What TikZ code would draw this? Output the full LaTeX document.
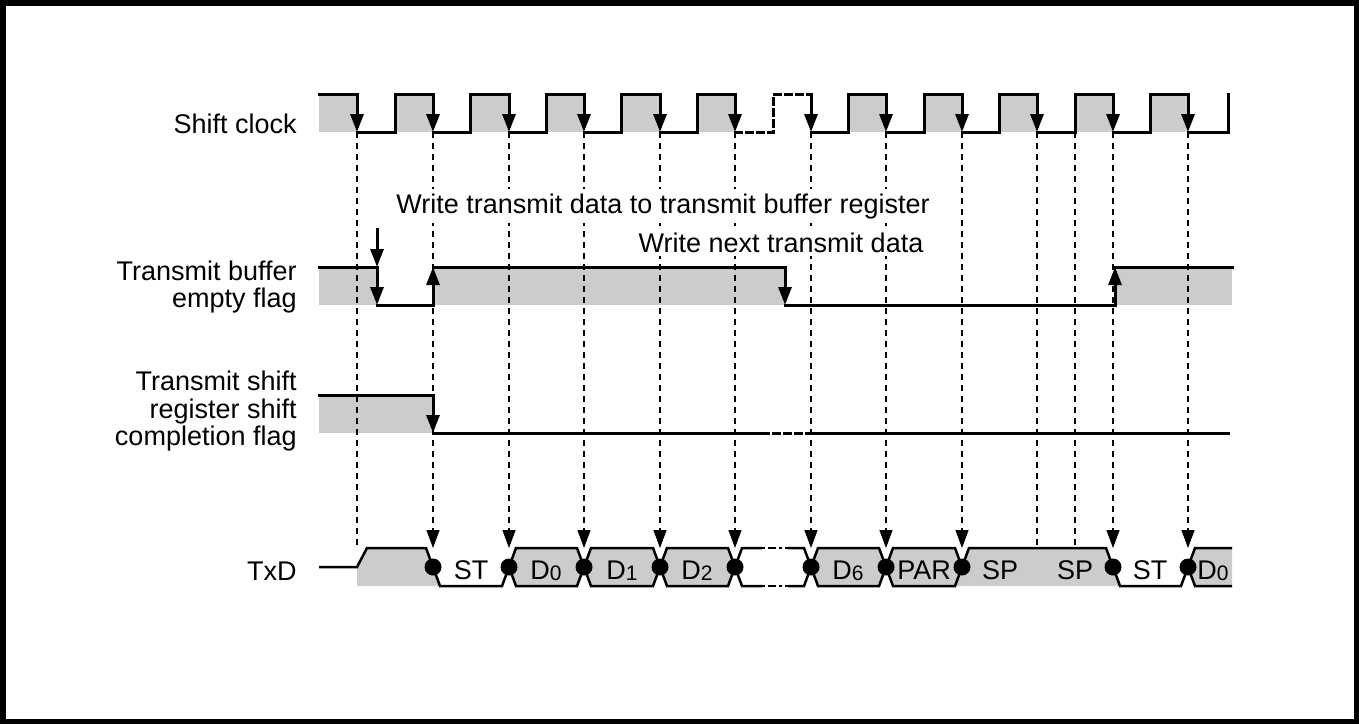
\documentclass[tikz,border=0pt]{standalone}
\usepackage{fontspec}
\setmainfont{Liberation Sans}
\usetikzlibrary{arrows.meta}
\definecolor{sgray}{RGB}{204,204,204}
\begin{document}
\begin{tikzpicture}[x=0.5pt,y=-0.5pt,
  sig/.style={line width=1.5pt, line join=miter, line cap=rect},
  txdline/.style={line width=1.25pt, line join=miter},
  guide/.style={line width=0.6pt, dash pattern=on 3pt off 2.5pt},
  arr/.style={-{Triangle[length=9pt,width=6.5pt]}},
  lab/.style={font=\fontsize{13.5}{16}\selectfont, inner sep=0pt, anchor=base east},
  celltxt/.style={font=\fontsize{13.5}{15}\selectfont, inner sep=0pt, anchor=base},
  note/.style={font=\fontsize{13.5}{16}\selectfont, fill=white, inner sep=2pt, anchor=base},
  tdot/.style={circle, fill=black, inner sep=0pt, minimum size=8.5pt}
]
\newcommand{\sub}[1]{\raisebox{-0.5pt}{\fontsize{10.5}{11}\selectfont #1}}
\useasboundingbox (0,0) rectangle (1359,724);
\draw[line width=2.75pt] (2.75,2.75) rectangle (1356.25,721.25);

% ---------------- gray fills ----------------
\foreach \r/\f in {319/357,395/433,470/509,546/584,621/660,697/735,848/886,924/962,999/1037,1075/1113,1150/1188}
  \fill[sgray] (\r,94) rectangle (\f,132);
\fill[sgray] (319,267) rectangle (377,305);
\fill[sgray] (433,267) rectangle (785,305);
\fill[sgray] (1115,267) rectangle (1232,305);
\fill[sgray] (319,395) rectangle (433,433);
\fill[sgray] (357,567) -- (367,548) -- (426,548) -- (440,586) -- (357,586) -- cycle;
\fill[sgray] (962,567) -- (969,548) -- (1106,548) -- (1120,586) -- (955,586) -- cycle;

% ---------------- guide lines ----------------
\foreach \x/\n in {357/1,433/2,509/3,584/4,660/5,735/6,811/7,886/8,962/9,1037/10,1075/11,1113/12,1188/13}{
  \coordinate (ck\n) at (\x,132);
  \coordinate (tx\n) at (\x,548);
}
\foreach \n in {1,10,11} \draw[guide] (ck\n) -- (tx\n);
\foreach \n in {2,3,4,5,6,7,8,9,12,13} \draw[guide,arr] (ck\n) -- (tx\n);

% ---------------- shift clock ----------------
\foreach \r/\f in {319/357,395/433,470/509,546/584,621/660,697/735,848/886,924/962,999/1037,1075/1113,1150/1188}
  \draw[sig,arr] (\r,94) -- (\f,94) -- (\f,132);
\foreach \f/\r in {357/395,433/470,509/546,584/621,660/697,811/848,886/924,962/999,1037/1075,1113/1150,1188/1228}
  \draw[sig] (\f,132) -- (\r,132) -- (\r,94);
\draw[sig,dash pattern=on 3pt off 2.5pt] (735,132) -- (773,132) -- (773,94) -- (811,94);
\draw[sig,arr] (811,94) -- (811,132);

% ---------------- transmit buffer empty flag ----------------
\draw[sig,arr] (319,267) -- (377,267) -- (377,305);
\draw[sig] (377,305) -- (431,305);
\draw[sig,arr] (433,305) -- (433,267);
\draw[sig,arr] (433,267) -- (785,267) -- (785,305);
\draw[sig] (785,305) -- (1115,305);
\draw[sig,arr] (1115,305) -- (1115,267);
\draw[sig] (1115,267) -- (1232,267);
\coordinate (wr) at (377,228);
\coordinate (wrend) at (377,267);
\draw[line width=1.5pt,arr] (wr) -- (wrend);

% ---------------- shift completion flag ----------------
\draw[sig,arr] (319,395) -- (433,395) -- (433,433);
\draw[sig] (433,433) -- (762,433);
\draw[sig,dash pattern=on 3pt off 2.5pt] (762,433) -- (806,433);
\draw[sig] (806,433) -- (1228,433);

% ---------------- TxD ----------------
\draw[txdline] (319,567) -- (357,567) -- (367,548) -- (426,548) -- (440,586) -- (502,586) -- (509,567);
\foreach \a/\b in {509/584,584/660,660/735,811/886,886/962}
  \draw[txdline,fill=sgray] (\a,567) -- (\a+7,548) -- (\b-7,548) -- (\b,567) -- (\b-7,586) -- (\a+7,586) -- cycle;
\draw[txdline] (735,567) -- (742,548) -- (762,548);
\draw[txdline] (735,567) -- (742,586) -- (762,586);
\draw[txdline,dash pattern=on 1.5pt off 1.5pt on 4pt off 1.5pt] (762,548) -- (788,548);
\draw[txdline,dash pattern=on 1.5pt off 1.5pt on 4pt off 1.5pt] (762,586) -- (788,586);
\draw[txdline] (788,548) -- (804,548) -- (811,567);
\draw[txdline] (788,586) -- (804,586) -- (811,567);
\draw[txdline] (962,567) -- (969,548) -- (1106,548) -- (1120,586) -- (1181,586) -- (1188,567);
\fill[sgray] (1188,567) -- (1195,548) -- (1232,548) -- (1232,586) -- (1195,586) -- cycle;
\draw[txdline] (1232,548) -- (1195,548) -- (1188,567) -- (1195,586) -- (1232,586);
\foreach \x/\n in {433/a,509/b,584/c,660/d,735/e,811/f,886/g,962/h,1113/i,1188/j}
  \node[tdot] (dot\n) at (\x,567) {};

% ---------------- texts ----------------
\node[lab] (l1) at (297,133) {Shift clock};
\node[lab] (l2) at (297,280) {Transmit buffer};
\node[lab] (l3) at (297,307) {empty flag};
\node[lab] (l4) at (297,390) {Transmit shift};
\node[lab] (l5) at (297,418) {register shift};
\node[lab] (l6) at (297,445) {completion flag};
\node[lab] (l7) at (297,580) {TxD};
\node[note] (n1) at (663,213) {Write transmit data to transmit buffer register};
\node[note] (n2) at (781,252) {Write next transmit data};
\node[celltxt] (c1) at (471,579) {ST};
\node[celltxt] (c2) at (546,579) {D\sub{0}};
\node[celltxt] (c3) at (622,579) {D\sub{1}};
\node[celltxt] (c4) at (697,579) {D\sub{2}};
\node[celltxt] (c5) at (848,579) {D\sub{6}};
\node[celltxt] (c6) at (924,579) {PAR};
\node[celltxt] (c7) at (1000,579) {SP};
\node[celltxt] (c8) at (1075,579) {SP};
\node[celltxt] (c9) at (1150,579) {ST};
\node[celltxt] (c10) at (1213,579) {D\sub{0}};
\end{tikzpicture}
\end{document}
